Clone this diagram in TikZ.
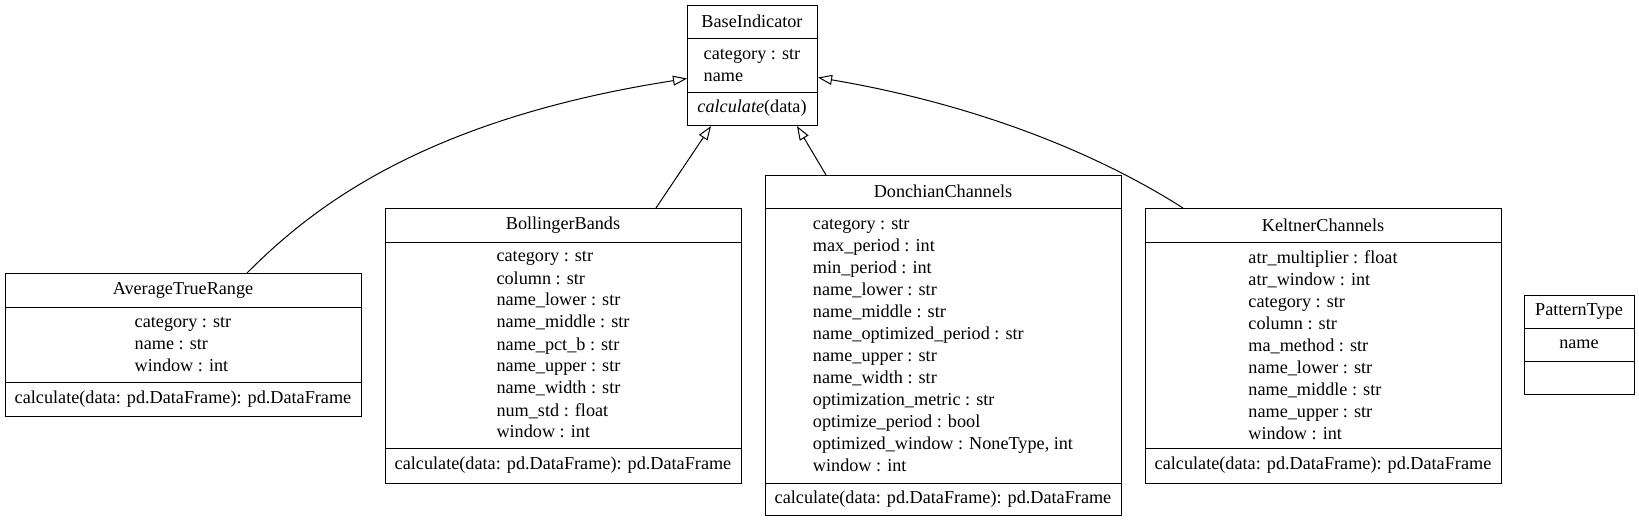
\documentclass[tikz,border=0pt]{standalone}
\usepackage{fontspec}
\setmainfont{Liberation Serif}
\usetikzlibrary{arrows.meta,calc}
\begin{document}
\begin{tikzpicture}[x=0.75pt,y=-0.75pt,
  box/.style={draw,line width=0.8pt,rectangle,inner sep=0pt,anchor=north west},
  divider/.style={line width=0.75pt},
  txt/.style={inner sep=0pt,font=\fontsize{13.65}{16.5}\selectfont},
  attrs/.style={txt,align=left},
  inherit/.style={line width=0.75pt,-{Triangle[open,length=10.5pt,width=7.5pt]}},
]
\path[use as bounding box,fill=white] (0,0) rectangle (1639,521);

% BaseIndicator
\node[box,minimum width=97.5pt,minimum height=90pt] (bi) at (687,5) {};
\draw[divider] ($(bi.north west)+(0,33.5)$) -- ($(bi.north east)+(0,33.5)$);
\draw[divider] ($(bi.north west)+(0,87)$) -- ($(bi.north east)+(0,87)$);
\node[txt] (biT) at (752,21.75) {BaseIndicator};
\node[attrs] (biA) at (752,65.25) {category : str\\name};
\node[txt] (biM) at (752,108.5) {\textit{calculate}(data)};

% AverageTrueRange
\node[box,minimum width=267pt,minimum height=107.25pt] (atr) at (5,273) {};
\draw[divider] ($(atr.north west)+(0,34)$) -- ($(atr.north east)+(0,34)$);
\draw[divider] ($(atr.north west)+(0,109)$) -- ($(atr.north east)+(0,109)$);
\node[txt] (atrT) at (183,290) {AverageTrueRange};
\node[attrs] (atrA) at (183,344.5) {category : str\\name : str\\window : int};
\node[txt] (atrM) at (183,399) {calculate(data: pd.DataFrame): pd.DataFrame};

% BollingerBands
\node[box,minimum width=267pt,minimum height=206.25pt] (bb) at (385,208) {};
\draw[divider] ($(bb.north west)+(0,34)$) -- ($(bb.north east)+(0,34)$);
\draw[divider] ($(bb.north west)+(0,240)$) -- ($(bb.north east)+(0,240)$);
\node[txt] (bbT) at (563,225) {BollingerBands};
\node[attrs] (bbA) at (563,345) {category : str\\column : str\\name\_lower : str\\name\_middle : str\\name\_pct\_b : str\\name\_upper : str\\name\_width : str\\num\_std : float\\window : int};
\node[txt] (bbM) at (563,465.5) {calculate(data: pd.DataFrame): pd.DataFrame};

% DonchianChannels
\node[box,minimum width=267pt,minimum height=255pt] (dc) at (765,175) {};
\draw[divider] ($(dc.north west)+(0,33)$) -- ($(dc.north east)+(0,33)$);
\draw[divider] ($(dc.north west)+(0,308)$) -- ($(dc.north east)+(0,308)$);
\node[txt] (dcT) at (943,191.5) {DonchianChannels};
\node[attrs] (dcA) at (943,345.5) {category : str\\max\_period : int\\min\_period : int\\name\_lower : str\\name\_middle : str\\name\_optimized\_period : str\\name\_upper : str\\name\_width : str\\optimization\_metric : str\\optimize\_period : bool\\optimized\_window : NoneType, int\\window : int};
\node[txt] (dcM) at (943,499) {calculate(data: pd.DataFrame): pd.DataFrame};

% KeltnerChannels
\node[box,minimum width=267pt,minimum height=206.25pt] (kc) at (1145,208) {};
\draw[divider] ($(kc.north west)+(0,34)$) -- ($(kc.north east)+(0,34)$);
\draw[divider] ($(kc.north west)+(0,240)$) -- ($(kc.north east)+(0,240)$);
\node[txt] (kcT) at (1323,225) {KeltnerChannels};
\node[attrs] (kcA) at (1323,345) {atr\_multiplier : float\\atr\_window : int\\category : str\\column : str\\ma\_method : str\\name\_lower : str\\name\_middle : str\\name\_upper : str\\window : int};
\node[txt] (kcM) at (1323,465.5) {calculate(data: pd.DataFrame): pd.DataFrame};

% PatternType
\node[box,minimum width=82.5pt,minimum height=74.25pt] (pt) at (1524,295) {};
\draw[divider] ($(pt.north west)+(0,33)$) -- ($(pt.north east)+(0,33)$);
\draw[divider] ($(pt.north west)+(0,66)$) -- ($(pt.north east)+(0,66)$);
\node[txt] (ptT) at (1579,311.5) {PatternType};
\node[txt] (ptA) at (1579,344.5) {name};

% inheritance edges
\draw[inherit] ($(atr.north west)+(242,0)$) .. controls (310,210) and (420,120) .. ($(bi.west)+(0,13)$);
\draw[inherit] ($(bb.north west)+(271,0)$) -- ($(bi.south west)+(24,0)$);
\draw[inherit] ($(dc.north west)+(61,0)$) -- ($(bi.south west)+(110,0)$);
\draw[inherit] ($(kc.north west)+(38,0)$) .. controls (1100,155) and (980,105) .. ($(bi.east)+(0,12)$);
\end{tikzpicture}
\end{document}
